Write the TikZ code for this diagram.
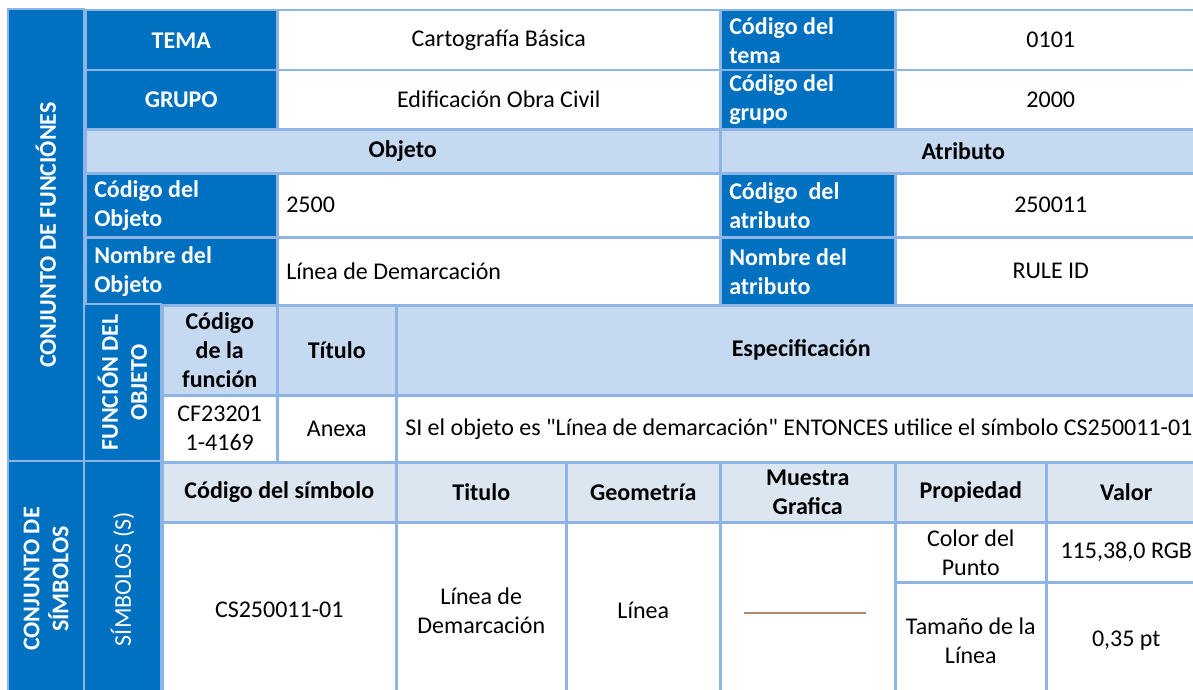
\documentclass[tikz,border=0pt]{standalone}
\usepackage{fontspec}
\setmainfont{Carlito}[Ligatures=TeXOff]
\definecolor{xlblue}{RGB}{0,112,192}
\definecolor{gridblue}{RGB}{141,180,226}
\definecolor{headblue}{RGB}{197,217,241}
\definecolor{symhead}{RGB}{220,230,241}
\definecolor{sampleline}{RGB}{181,133,110}
\newcommand\cellfont{\fontsize{24}{29}\selectfont}

\begin{document}
\begin{tikzpicture}[
    x=1pt, y=-1pt,
    cell/.style={rectangle, draw=gridblue, line width=2.5pt, anchor=north west, inner sep=0pt, align=center, font=\cellfont},
    dblock/.style={cell, fill=xlblue, text=white, font=\cellfont\bfseries},
    hblock/.style={cell, fill=headblue, font=\cellfont\bfseries},
    sblock/.style={cell, fill=symhead, font=\cellfont\bfseries},
    vblock/.style={cell, fill=white},
    sample/.style={draw=sampleline, line width=2pt}
]
\useasboundingbox (0,0) rectangle (1193,690);

% ----------------------------
% Conjunto de funciones
% ----------------------------
\node[dblock, rotate=90, anchor=center, minimum width=452, minimum height=76] (conjfun) at (46,235) {CONJUNTO DE FUNCIÓNES};

\node[dblock, minimum width=192, minimum height=60] (tema) at (84,9) {TEMA};
\node[vblock, minimum width=443, minimum height=60] (temaval) at (276,9) {Cartografía Básica};
\node[dblock, minimum width=175, minimum height=60, text width=157, align=flush left] (codtema) at (719,9) {Código del\\tema};
\node[vblock, minimum width=311, minimum height=60] (codtemaval) at (894,9) {0101};

\node[dblock, minimum width=192, minimum height=59] (grupo) at (84,69) {GRUPO};
\node[vblock, minimum width=443, minimum height=59] (grupoval) at (276,69) {Edificación Obra Civil};
\node[dblock, minimum width=175, minimum height=59, text width=157, align=flush left] (codgrupo) at (719,69) {Código del\\grupo};
\node[vblock, minimum width=311, minimum height=59] (codgrupoval) at (894,69) {2000};

\node[hblock, minimum width=635, minimum height=44] (objeto) at (84,128) {Objeto};
\node[hblock, minimum width=486, minimum height=44] (atributo) at (719,128) {Atributo};

\node[dblock, minimum width=192, minimum height=64, text width=174, align=flush left] (codobj) at (84,172) {Código del\\Objeto};
\node[vblock, minimum width=443, minimum height=64, text width=425, align=flush left] (codobjval) at (276,172) {2500};
\node[dblock, minimum width=175, minimum height=64, text width=157, align=flush left] (codatr) at (719,172) {Código\ \ del\\atributo};
\node[vblock, minimum width=311, minimum height=64] (codatrval) at (894,172) {250011};

\node[dblock, minimum width=192, minimum height=68, text width=174, align=flush left] (nomobj) at (84,236) {Nombre del\\Objeto};
\node[vblock, minimum width=443, minimum height=68, text width=425, align=flush left] (nomobjval) at (276,236) {Línea de Demarcación};
\node[dblock, minimum width=175, minimum height=68, text width=157, align=flush left] (nomatr) at (719,236) {Nombre del\\atributo};
\node[vblock, minimum width=311, minimum height=68] (nomatrval) at (894,236) {RULE ID};

% Funcion del objeto
\node[dblock, rotate=90, anchor=center, minimum width=157, minimum height=77] (funcobj) at (122.5,382.5) {FUNCIÓN DEL\\OBJETO};
\node[hblock, minimum width=115, minimum height=90] (codfunc) at (161,304) {Código\\de la\\función};
\node[hblock, minimum width=119, minimum height=90] (titulo) at (276,304) {Título};
\node[hblock, minimum width=810, minimum height=90] (espec) at (395,304) {Especificación};

\node[vblock, minimum width=115, minimum height=67] (codfuncval) at (161,394) {CF23201\\1-4169};
\node[vblock, minimum width=119, minimum height=67] (tituloval) at (276,394) {Anexa};
\node[vblock, minimum width=810, minimum height=67, text width=792, align=flush left] (especval) at (395,394) {\mbox{SI el objeto es "Línea de demarcación" ENTONCES utilice el símbolo CS250011-01}};

% ----------------------------
% Conjunto de simbolos
% ----------------------------
\node[dblock, rotate=90, anchor=center, minimum width=236, minimum height=76] (conjsim) at (46,579) {CONJUNTO DE\\SÍMBOLOS};
\node[dblock, rotate=90, anchor=center, minimum width=236, minimum height=77, font=\cellfont] (simbolos) at (122.5,579) {SÍMBOLOS (S)};

\node[sblock, minimum width=234, minimum height=60] (codsim) at (161,461) {Código del símbolo};
\node[sblock, minimum width=170, minimum height=60] (titsim) at (395,461) {Titulo};
\node[sblock, minimum width=154, minimum height=60] (geom) at (565,461) {Geometría};
\node[sblock, minimum width=175, minimum height=60] (muestra) at (719,461) {Muestra\\Grafica};
\node[sblock, minimum width=151, minimum height=60] (prop) at (894,461) {Propiedad};
\node[sblock, minimum width=160, minimum height=60] (valor) at (1045,461) {Valor};

\node[vblock, minimum width=234, minimum height=176] (codsimval) at (161,521) {CS250011-01};
\node[vblock, minimum width=170, minimum height=176] (titsimval) at (395,521) {Línea de\\Demarcación};
\node[vblock, minimum width=154, minimum height=176] (geomval) at (565,521) {Línea};
\node[vblock, minimum width=175, minimum height=176] (muestraval) at (719,521) {};
\node[vblock, minimum width=151, minimum height=60] (color) at (894,521) {Color del\\Punto};
\node[vblock, minimum width=160, minimum height=60] (colorval) at (1045,521) {115,38,0 RGB};
\node[vblock, minimum width=151, minimum height=116] (tamano) at (894,581) {Tamaño de la\\Línea};
\node[vblock, minimum width=160, minimum height=116] (tamanoval) at (1045,581) {0,35 pt};

% Muestra grafica
\draw[sample] ([xshift=-64pt,yshift=-3pt]muestraval.center) -- ([xshift=58pt,yshift=-3pt]muestraval.center);

\end{tikzpicture}
\end{document}
